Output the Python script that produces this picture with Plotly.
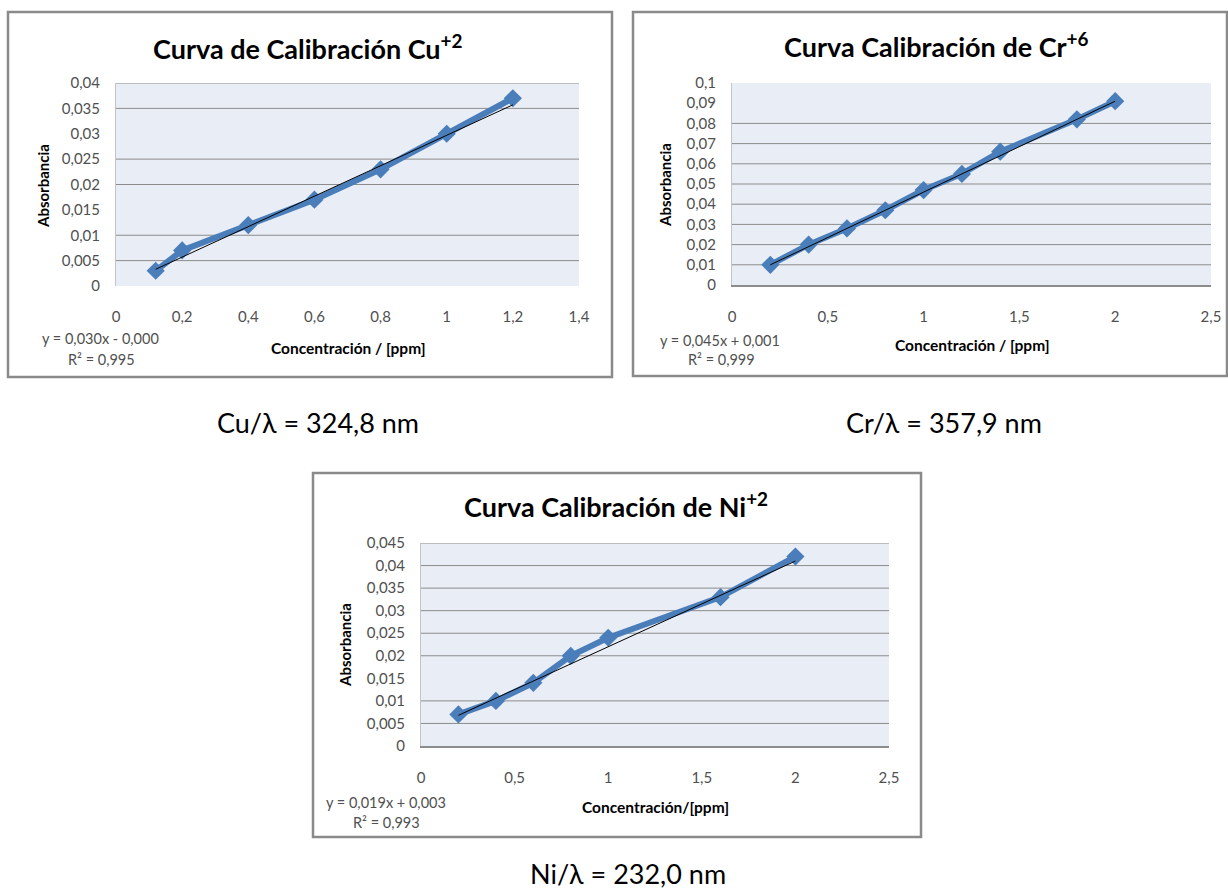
import numpy as np
import plotly.graph_objects as go

W, H = 1228, 891

# ---- Cu(+2) calibration ----
cu_conc = [0.12, 0.2, 0.4, 0.6, 0.8, 1.0, 1.2]
cu_abs = [0.003, 0.007, 0.012, 0.017, 0.023, 0.030, 0.037]
cu_slope, cu_intercept, cu_r2 = 0.030, -0.0003, 0.995
cu_xticks = [0, 0.2, 0.4, 0.6, 0.8, 1.0, 1.2, 1.4]
cu_xticktext = ["0", "0,2", "0,4", "0,6", "0,8", "1", "1,2", "1,4"]
cu_yticks = [0, 0.005, 0.01, 0.015, 0.02, 0.025, 0.03, 0.035, 0.04]
cu_yticktext = ["0", "0,005", "0,01", "0,015", "0,02", "0,025", "0,03", "0,035", "0,04"]
cu_grid = [0.005, 0.01, 0.02, 0.025, 0.035, 0.04]

# ---- Cr(+6) calibration ----
cr_conc = [0.2, 0.4, 0.6, 0.8, 1.0, 1.2, 1.4, 1.8, 2.0]
cr_abs = [0.010, 0.020, 0.028, 0.037, 0.047, 0.055, 0.066, 0.082, 0.091]
cr_slope, cr_intercept, cr_r2 = 0.045, 0.001, 0.999
cr_xticks = [0, 0.5, 1.0, 1.5, 2.0, 2.5]
cr_xticktext = ["0", "0,5", "1", "1,5", "2", "2,5"]
cr_yticks = [0, 0.01, 0.02, 0.03, 0.04, 0.05, 0.06, 0.07, 0.08, 0.09, 0.1]
cr_yticktext = ["0", "0,01", "0,02", "0,03", "0,04", "0,05", "0,06", "0,07", "0,08", "0,09", "0,1"]
cr_grid = [0.01, 0.02, 0.03, 0.04, 0.05, 0.06, 0.07, 0.08]

# ---- Ni(+2) calibration ----
ni_conc = [0.2, 0.4, 0.6, 0.8, 1.0, 1.6, 2.0]
ni_abs = [0.007, 0.010, 0.014, 0.020, 0.024, 0.033, 0.042]
ni_slope, ni_intercept, ni_r2 = 0.019, 0.003, 0.993
ni_xticks = [0, 0.5, 1.0, 1.5, 2.0, 2.5]
ni_xticktext = ["0", "0,5", "1", "1,5", "2", "2,5"]
ni_yticks = [0, 0.005, 0.01, 0.015, 0.02, 0.025, 0.03, 0.035, 0.04, 0.045]
ni_yticktext = ["0", "0,005", "0,01", "0,015", "0,02", "0,025", "0,03", "0,035", "0,04", "0,045"]
ni_grid = [0.005, 0.01, 0.02, 0.025, 0.03, 0.035, 0.04, 0.045]

FONT = "Lato"
BLUE = "#4a7ebb"
GRID = "#8c8c8c"
PLOT_BG = "#e9edf5"
TEXT = "#505050"


def fx(p):
    return p / W


def fy(p):
    return 1 - p / H


def equation(slope, intercept):
    sign = "+" if intercept >= 0 else "-"
    s = f"y = {slope:.3f}x {sign} {abs(intercept):.3f}"
    return s.replace(".", ",")


panels = [
    dict(conc=cu_conc, ab=cu_abs, slope=cu_slope, b=cu_intercept, r2=cu_r2,
         xt=cu_xticks, xtt=cu_xticktext, yt=cu_yticks, ytt=cu_yticktext, grid=cu_grid,
         title="Curva de Calibración Cu<sup>+2</sup>", xtitle="Concentración / [ppm]",
         caption="Cu/λ = 324,8 nm",
         dom=(116, 579, 83, 286), box=(8, 612, 12, 377),
         title_xy=(308, 47), ytitle_xy=(43, 186), xtitle_xy=(348, 348),
         eq_xy=(100, 338), r2_xy=(101, 359), cap_xy=(318, 423), baseline=False),
    dict(conc=cr_conc, ab=cr_abs, slope=cr_slope, b=cr_intercept, r2=cr_r2,
         xt=cr_xticks, xtt=cr_xticktext, yt=cr_yticks, ytt=cr_yticktext, grid=cr_grid,
         title="Curva Calibración de Cr<sup>+6</sup>", xtitle="Concentración / [ppm]",
         caption="Cr/λ = 357,9 nm",
         dom=(732, 1211, 83, 285), box=(633, 1227, 12, 376),
         title_xy=(936, 45), ytitle_xy=(665, 185), xtitle_xy=(972, 345),
         eq_xy=(720, 340), r2_xy=(721, 360), cap_xy=(944, 423), baseline=True),
    dict(conc=ni_conc, ab=ni_abs, slope=ni_slope, b=ni_intercept, r2=ni_r2,
         xt=ni_xticks, xtt=ni_xticktext, yt=ni_yticks, ytt=ni_yticktext, grid=ni_grid,
         title="Curva Calibración de Ni<sup>+2</sup>", xtitle="Concentración/[ppm]",
         caption="Ni/λ = 232,0 nm",
         dom=(421, 889, 543, 746), box=(313, 921, 473, 837),
         title_xy=(616, 505), ytitle_xy=(345, 645), xtitle_xy=(655, 807),
         eq_xy=(386, 802), r2_xy=(387, 822), cap_xy=(628, 873), baseline=True),
]

fig = go.Figure()
annotations = []
shapes = []

for i, p in enumerate(panels, start=1):
    xa = "x" if i == 1 else f"x{i}"
    ya = "y" if i == 1 else f"y{i}"
    x0, x1, y0, y1 = p["dom"]

    # measured points joined by a thick line
    fig.add_trace(go.Scatter(
        x=p["conc"], y=p["ab"], mode="lines+markers", xaxis=xa, yaxis=ya,
        line=dict(color=BLUE, width=6),
        marker=dict(symbol="diamond", size=14, color=BLUE),
        showlegend=False, hoverinfo="skip"))

    # linear trend line from the stated equation
    xs = np.array([min(p["conc"]), max(p["conc"])])
    fig.add_trace(go.Scatter(
        x=xs, y=p["slope"] * xs + p["b"], mode="lines", xaxis=xa, yaxis=ya,
        line=dict(color="#000000", width=1),
        showlegend=False, hoverinfo="skip"))

    axis_font = dict(family=FONT, size=15, color=TEXT)
    fig.layout[f"xaxis{'' if i == 1 else i}"] = dict(
        domain=[fx(x0), fx(x1)], anchor=ya, range=[p["xt"][0], p["xt"][-1]],
        tickmode="array", tickvals=p["xt"], ticktext=p["xtt"],
        ticks="outside", ticklen=17, tickcolor="rgba(0,0,0,0)",
        tickfont=axis_font, showgrid=False, zeroline=False,
        showline=p["baseline"], linecolor="#8c8c8c", linewidth=2, fixedrange=True)
    fig.layout[f"yaxis{'' if i == 1 else i}"] = dict(
        domain=[fy(y1), fy(y0)], anchor=xa, range=[p["yt"][0], p["yt"][-1]],
        tickmode="array", tickvals=p["yt"], ticktext=p["ytt"],
        ticks="outside", ticklen=12, tickcolor="rgba(0,0,0,0)",
        tickfont=axis_font, showgrid=False, zeroline=False,
        showline=True, linecolor="#c4c4c4", linewidth=1, fixedrange=True)

    # plot area background
    shapes.append(dict(type="rect", xref=f"{xa} domain", yref=f"{ya} domain",
                       x0=0, x1=1, y0=0, y1=1, fillcolor=PLOT_BG,
                       line=dict(width=0), layer="below"))
    # horizontal gridlines
    for g in p["grid"]:
        shapes.append(dict(type="line", xref=f"{xa} domain", yref=ya,
                           x0=0, x1=1, y0=g, y1=g,
                           line=dict(color=GRID, width=1), layer="below"))
    # chart frame
    bx0, bx1, by0, by1 = p["box"]
    shapes.append(dict(type="rect", xref="paper", yref="paper",
                       x0=fx(bx0), x1=fx(bx1), y0=fy(by1), y1=fy(by0),
                       line=dict(color="#8a8a8a", width=2.5), layer="below"))

    def note(text, xy, size, bold=False, angle=0, color="#000000"):
        annotations.append(dict(
            text=f"<b>{text}</b>" if bold else text,
            x=fx(xy[0]), y=fy(xy[1]), xref="paper", yref="paper",
            xanchor="center", yanchor="middle", showarrow=False,
            textangle=angle, font=dict(family=FONT, size=size, color=color)))

    note(p["title"], p["title_xy"], 27, bold=True)
    note("Absorbancia", p["ytitle_xy"], 15, bold=True, angle=-90)
    note(p["xtitle"], p["xtitle_xy"], 15.5, bold=True)
    note(equation(p["slope"], p["b"]), p["eq_xy"], 14.5, color=TEXT)
    note(f"R² = {p['r2']:.3f}".replace(".", ","), p["r2_xy"], 14.5, color=TEXT)
    note(p["caption"], p["cap_xy"], 27)

fig.update_layout(
    width=W, height=H,
    margin=dict(l=0, r=0, t=0, b=0, pad=0, autoexpand=False),
    paper_bgcolor="#ffffff", plot_bgcolor="rgba(0,0,0,0)",
    annotations=annotations, shapes=shapes, showlegend=False,
)

# page without default body spacing so the figure fills the window exactly
page_css = (
    "document.documentElement.style.margin='0';"
    "document.documentElement.style.overflow='hidden';"
    "document.body.style.margin='0';"
    "document.body.style.padding='0';"
    "document.body.style.overflow='hidden';"
)

fig.write_html("out.html", config={"displayModeBar": False}, post_script=page_css)
